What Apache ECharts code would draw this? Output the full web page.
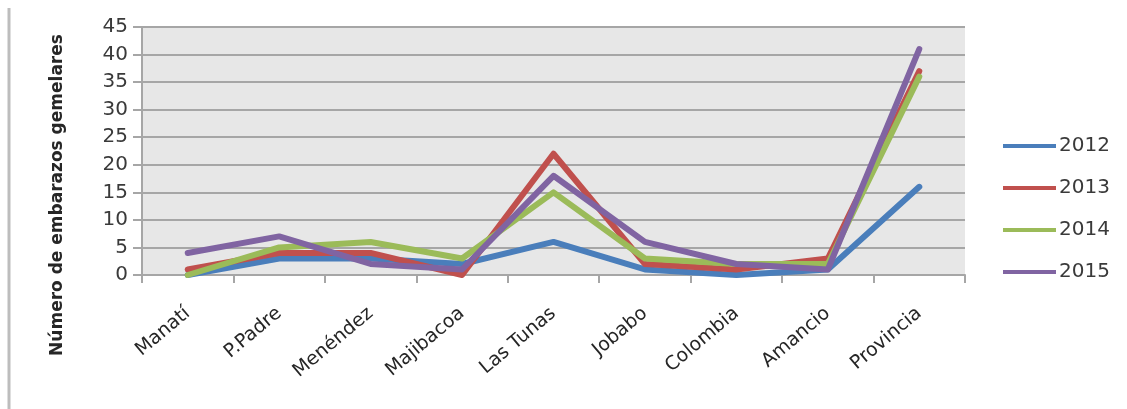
<!DOCTYPE html>
<html>
<head>
<meta charset="utf-8">
<script src="https://cdn.jsdelivr.net/npm/echarts@6/dist/echarts.min.js"></script>
<style>
  html, body { margin: 0; padding: 0; background: #fff; }
  #chart { width: 1127px; height: 409px; }
</style>
</head>
<body>
<div id="chart"></div>
<script>
// Municipalities (plus the provincial total) along the x axis
const categories = ['Manatí', 'P.Padre', 'Menéndez', 'Majibacoa', 'Las Tunas', 'Jobabo', 'Colombia', 'Amancio', 'Provincia'];

// Twin pregnancies per year
const y2012 = [0, 3, 3, 2, 6, 1, 0, 1, 16];
const y2013 = [1, 4, 4, 0, 22, 2, 1, 3, 37];
const y2014 = [0, 5, 6, 3, 15, 3, 2, 2, 36];
const y2015 = [4, 7, 2, 1, 18, 6, 2, 1, 41];

const years = ['2012', '2013', '2014', '2015'];
const seriesValues = [y2012, y2013, y2014, y2015];
const colors = ['#4a7ebb', '#c0504d', '#9bbb59', '#8064a2'];

const yTitle = 'Número de embarazos gemelares';
const FONT = 'DejaVu Sans';

const chart = echarts.init(document.getElementById('chart'), null, { renderer: 'canvas' });

chart.setOption({
  animation: false,
  backgroundColor: '#ffffff',
  textStyle: { fontFamily: FONT },
  grid: {
    left: 142, right: 162, top: 27, bottom: 134,
    show: true, backgroundColor: '#e7e7e7', borderWidth: 0
  },
  legend: {
    orient: 'vertical',
    left: 998, top: 131,
    itemGap: 22,
    itemWidth: 53, itemHeight: 4,
    icon: 'rect',
    textStyle: { fontFamily: FONT, fontSize: 20, color: '#3a3a3a', padding: [0, 0, 0, -2] },
    data: years
  },
  xAxis: {
    type: 'category',
    data: categories,
    boundaryGap: true,
    axisLine: { lineStyle: { color: '#a6a6a6', width: 2 } },
    axisTick: { show: true, length: 8, lineStyle: { color: '#a6a6a6', width: 2 } },
    axisLabel: {
      rotate: 40, margin: 36, interval: 0,
      fontFamily: FONT, fontSize: 19, color: '#262626'
    }
  },
  yAxis: {
    type: 'value',
    min: 0, max: 45, interval: 5,
    axisLine: { show: true, lineStyle: { color: '#a6a6a6', width: 2 } },
    axisTick: { show: true, length: 9, lineStyle: { color: '#a6a6a6', width: 2 } },
    axisLabel: { margin: 14, fontFamily: FONT, fontSize: 20, color: '#3a3a3a' },
    splitLine: { show: true, lineStyle: { color: '#a6a6a6', width: 2 } }
  },
  graphic: [
    {
      type: 'line',
      shape: { x1: 9, y1: 8, x2: 9, y2: 409 },
      style: { stroke: '#bdbdbd', lineWidth: 3 }
    },
    {
      type: 'text',
      x: 58, y: 195,
      rotation: Math.PI / 2,
      style: {
        text: yTitle,
        fontFamily: FONT, fontSize: 17, fontWeight: 'bold',
        fill: '#262626', align: 'center', verticalAlign: 'middle'
      }
    }
  ],
  series: years.map((name, i) => ({
    name: name,
    type: 'line',
    data: seriesValues[i],
    showSymbol: false,
    symbol: 'none',
    color: colors[i],
    lineStyle: { width: 6, color: colors[i], cap: 'round', join: 'round' }
  }))
});
</script>
</body>
</html>
